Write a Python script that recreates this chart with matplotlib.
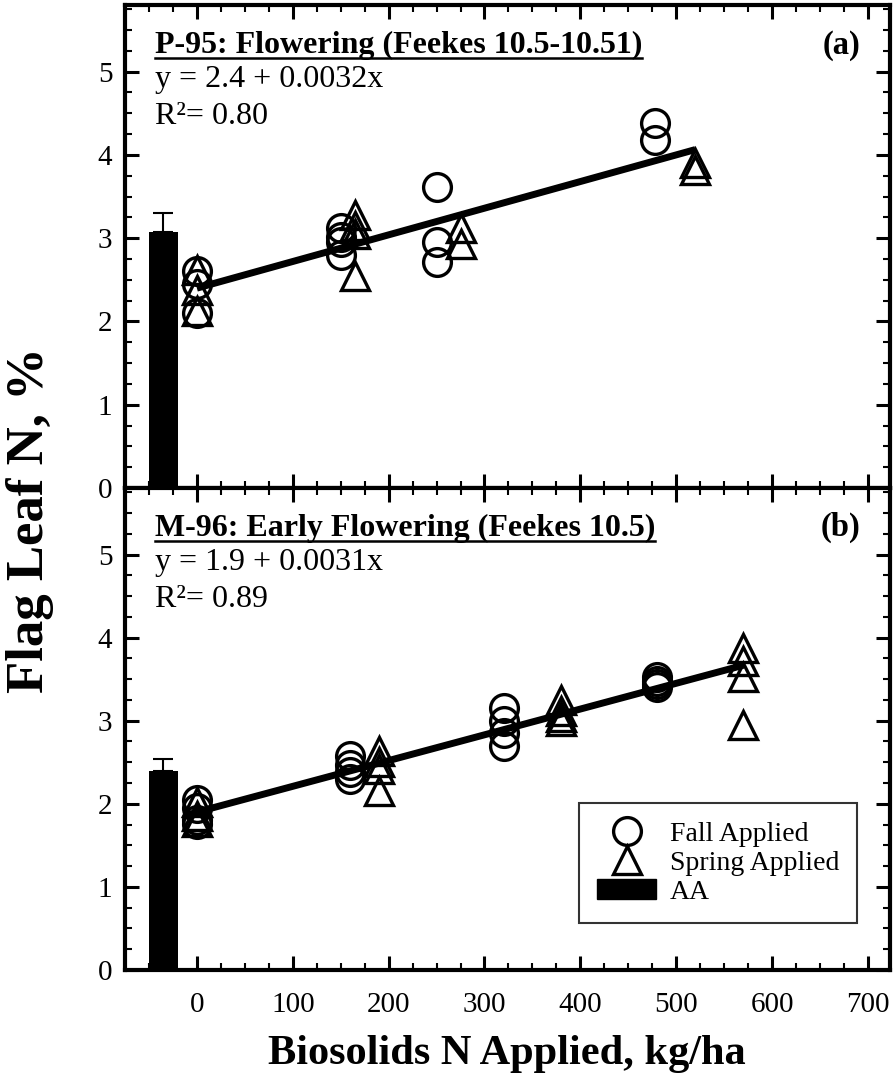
import matplotlib
matplotlib.use("Agg")
import matplotlib.pyplot as plt
from matplotlib.lines import Line2D
from matplotlib.patches import Patch
from matplotlib.ticker import MultipleLocator

plt.rcParams['font.family'] = ['Liberation Serif', 'DejaVu Serif']

# P-95 flowering, flag leaf N (%)
a_fall_x = [0, 0, 0, 150, 150, 150, 150, 250, 250, 250, 478, 478]
a_fall_y = [2.6, 2.45, 2.1, 3.12, 3.02, 2.95, 2.8, 3.62, 2.95, 2.72, 4.38, 4.18]
a_spring_x = [0, 0, 0, 165, 165, 165, 165, 275, 275, 520, 520]
a_spring_y = [2.62, 2.38, 2.12, 3.28, 3.15, 3.05, 2.55, 3.12, 2.93, 3.9, 3.82]

# M-96 early flowering
b_fall_x = [0, 0, 0, 0, 160, 160, 160, 160, 320, 320, 320, 320, 480, 480, 480, 480]
b_fall_y = [2.05, 1.95, 1.8, 1.76, 2.57, 2.47, 2.38, 2.3, 3.15, 3.0, 2.85, 2.7, 3.52, 3.48, 3.44, 3.4]
b_spring_x = [0, 0, 0, 190, 190, 190, 190, 380, 380, 380, 380, 570, 570, 570, 570]
b_spring_y = [2.02, 1.85, 1.78, 2.63, 2.5, 2.42, 2.15, 3.25, 3.12, 3.05, 3.0, 3.88, 3.72, 3.52, 2.95]

# anhydrous ammonia (AA) reference bars
aa_x = -35
aa_mean = [3.07, 2.40]
aa_err = [0.23, 0.14]

# regressions
intercepts = [2.4, 1.9]
slopes = [0.0032, 0.0031]
r2 = ['0.80', '0.89']
fit_max = [520, 570]

titles = ['P-95: Flowering (Feekes 10.5-10.51)', 'M-96: Early Flowering (Feekes 10.5)']
tags = ['(a)', '(b)']

panels = [(a_fall_x, a_fall_y, a_spring_x, a_spring_y),
          (b_fall_x, b_fall_y, b_spring_x, b_spring_y)]

fig = plt.figure(figsize=(8.96, 10.8), dpi=100)
ax_top = fig.add_axes([0.1395, 0.5481, 0.8538, 0.4473])
ax_bot = fig.add_axes([0.1395, 0.1019, 0.8538, 0.4462])
axes = [ax_top, ax_bot]

mk = dict(linestyle='none', markerfacecolor='none', markeredgecolor='black',
          markersize=20, markeredgewidth=2.4)

title_texts = []
for i, ax in enumerate(axes):
    fx, fy, sx, sy = panels[i]
    ax.bar(aa_x, aa_mean[i], width=30, color='black', zorder=2)
    ax.errorbar(aa_x, aa_mean[i], yerr=[[0], [aa_err[i]]], fmt='none',
                ecolor='black', elinewidth=1.5, capsize=7, capthick=1.5, zorder=2)
    ax.plot(fx, fy, marker='o', zorder=3, **mk)
    ax.plot(sx, sy, marker='^', zorder=3, **mk)
    xs = [0, fit_max[i]]
    ax.plot(xs, [intercepts[i] + slopes[i] * x for x in xs], color='black',
            lw=5, solid_capstyle='butt', zorder=4)

    ax.set_xlim(-75, 723)
    ax.set_ylim(0, 5.8)
    ax.xaxis.set_major_locator(MultipleLocator(100))
    ax.xaxis.set_minor_locator(MultipleLocator(25))
    ax.yaxis.set_major_locator(MultipleLocator(1))
    ax.yaxis.set_minor_locator(MultipleLocator(0.25))
    ax.tick_params(which='both', direction='in', top=True, right=True)
    ax.tick_params(which='major', length=10, width=2.2, labelsize=21, pad=9)
    ax.tick_params(which='minor', length=5, width=1.5)
    ax.tick_params(axis='x', which='major', pad=16)
    for sp in ax.spines.values():
        sp.set_linewidth(3)

    t = ax.text(0.039, 0.9, titles[i], transform=ax.transAxes, fontsize=23,
                fontweight='bold', va='baseline', ha='left')
    title_texts.append(t)
    ax.text(0.961, 0.9, tags[i], transform=ax.transAxes, fontsize=23.5,
            fontweight='bold', va='baseline', ha='right')
    ax.text(0.039, 0.83, f'y = {intercepts[i]} + {slopes[i]}x', transform=ax.transAxes,
            fontsize=23, va='baseline', ha='left')
    ax.text(0.039, 0.754, f'R²= {r2[i]}', transform=ax.transAxes,
            fontsize=23, va='baseline', ha='left')

ax_top.tick_params(axis='x', labelbottom=False)
ax_bot.set_xticks(range(0, 701, 100))

handles = [Line2D([], [], marker='o', **mk),
           Line2D([], [], marker='^', **mk),
           Patch(facecolor='black', edgecolor='black')]
leg = ax_bot.legend(handles, ['Fall Applied', 'Spring Applied', 'AA'],
                    loc='lower right', bbox_to_anchor=(0.957, 0.0975),
                    borderaxespad=0, fontsize=20, frameon=True, fancybox=False,
                    edgecolor='black', handlelength=2.1, handleheight=0.75,
                    handletextpad=0.5, labelspacing=0.12, borderpad=0.65)
leg.get_frame().set_linewidth(1.5)

fig.text(0.0335, 0.5185, 'Flag Leaf N, %', rotation=90, fontsize=38,
         fontweight='bold', ha='center', va='center')
fig.text(0.566, 0.024, 'Biosolids N Applied, kg/ha', fontsize=30.5,
         fontweight='bold', ha='center', va='center')

# underline the panel titles
fig.canvas.draw()
renderer = fig.canvas.get_renderer()
W, H = fig.bbox.width, fig.bbox.height
for t in title_texts:
    bb = t.get_window_extent(renderer)
    base = t.get_transform().transform(t.get_position())[1] - 5
    fig.add_artist(Line2D([bb.x0 / W, bb.x1 / W], [base / H, base / H],
                          color='black', lw=1.8, transform=fig.transFigure))

fig.savefig('out.png', dpi=100)
